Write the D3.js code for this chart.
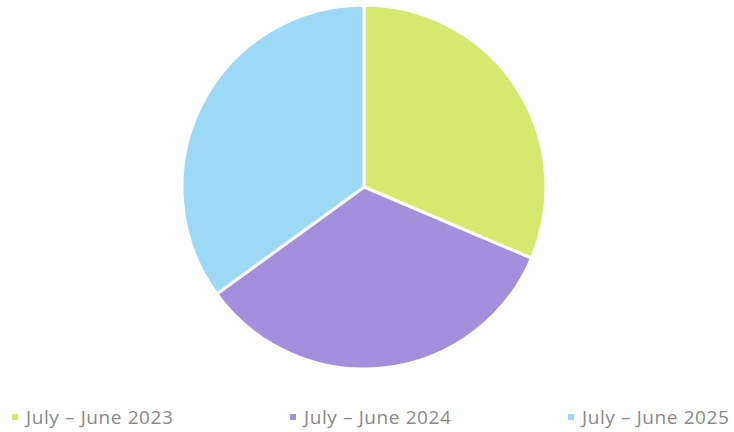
<!DOCTYPE html>
<html>
<head>
<meta charset="utf-8">
<script src="https://cdn.jsdelivr.net/npm/d3@7"></script>
<style>
  html, body { margin: 0; padding: 0; background: #fff; }
  svg { display: block; }
</style>
</head>
<body>
<svg id="chart" width="734" height="432"></svg>
<script>
// Share of each reporting year
const categories = ["July \u2013 June 2023", "July \u2013 June 2024", "July \u2013 June 2025"];
const values = [31.4, 33.6, 35.0];
const colors = ["#d6e96e", "#a48fdc", "#9bd9f5"];

const svg = d3.select("#chart");
const cx = 364, cy = 187, radius = 182;

const pie = d3.pie().sort(null).value(d => d.value);
const arc = d3.arc().innerRadius(0).outerRadius(radius);
const data = categories.map((c, i) => ({ label: c, value: values[i], color: colors[i] }));

svg.append("g")
  .attr("transform", `translate(${cx},${cy})`)
  .selectAll("path")
  .data(pie(data))
  .join("path")
  .attr("d", arc)
  .attr("fill", d => d.data.color)
  .attr("stroke", "#ffffff")
  .attr("stroke-width", 3)
  .attr("stroke-linejoin", "round");

// Legend along the bottom
const legendX = [12, 290, 568];
const legend = svg.append("g").selectAll("g")
  .data(data)
  .join("g")
  .attr("transform", (d, i) => `translate(${legendX[i]},417)`);

legend.append("rect")
  .attr("x", 0).attr("y", -3)
  .attr("width", 6).attr("height", 6)
  .attr("fill", d => d.color);

legend.append("text")
  .attr("x", 14).attr("y", 0)
  .attr("dy", "0.35em")
  .attr("font-family", "'Open Sans', Lato, sans-serif")
  .attr("font-size", 19)
  .attr("letter-spacing", 0.6)
  .attr("fill", "#898989")
  .text(d => d.label);
</script>
</body>
</html>
